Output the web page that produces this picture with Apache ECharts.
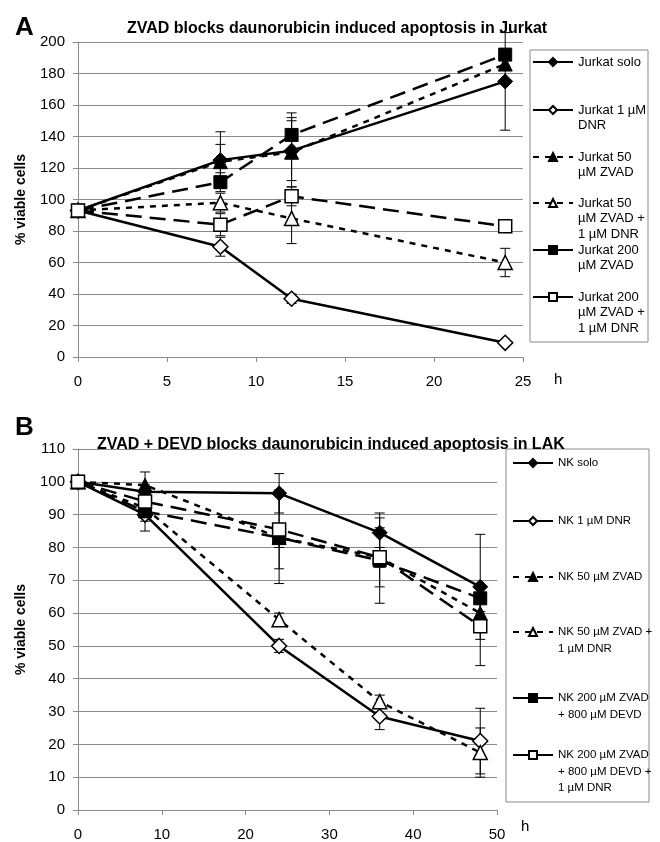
<!DOCTYPE html>
<html>
<head>
<meta charset="utf-8">
<script src="https://cdn.jsdelivr.net/npm/echarts@6/dist/echarts.min.js"></script>
<style>
  html, body { margin: 0; padding: 0; background: #fff; }
  #chart { width: 660px; height: 842px; }
</style>
</head>
<body>
<div id="chart"></div>
<script>
// panel A: Jurkat, hours
const timesA = [0, 8, 12, 24];
const jurkatSolo = [93, 125, 131, 175];
const jurkatSoloSd = [0, 18, 19, 31];
const jurkatDnr = [93, 70, 37, 9];
const jurkatDnrSd = [0, 6, 3, 1];
const jurkatZ50 = [93, 124, 130, 186];
const jurkatZ50Sd = [0, 11, 22, 3];
const jurkatZ50Dnr = [93, 98, 88, 60];
const jurkatZ50DnrSd = [0, 6, 16, 9];
const jurkatZ200 = [93, 111, 141, 192];
const jurkatZ200Sd = [0, 6, 14, 3];
const jurkatZ200Dnr = [93, 84, 102, 83];
const jurkatZ200DnrSd = [0, 7, 6, 1];

// panel B: LAK / NK, hours
const timesB = [0, 8, 24, 36, 48];
const nkSolo = [100, 97, 96.5, 84.5, 68];
const nkSoloSd = [0, 2, 6, 6, 16];
const nkDnr = [100, 90, 50, 28.5, 21];
const nkDnrSd = [0, 5, 2, 4, 10];
const nkZ50 = [100, 99, 83, 77, 60];
const nkZ50Sd = [0, 4, 3, 3, 3];
const nkZ50Dnr = [100, 92, 58, 33, 17.5];
const nkZ50DnrSd = [0, 3, 2, 2, 7.5];
const nkZD = [100, 91, 83, 76, 64.5];
const nkZDSd = [0, 3, 14, 13, 4];
const nkZDDnr = [100, 94, 85.5, 77, 56];
const nkZDDnrSd = [0, 3, 12, 9, 12];

const FONT = 'Liberation Sans, Arial, sans-serif';
const GRAY = '#8a8a8a';
const SHORT = [6, 6];
const LONG = [16, 8];

// name, values, sd, symbol, open?, dash, legend lines, first-line y
const seriesA = [
  ['Jurkat solo', jurkatSolo, jurkatSoloSd, 'diamond', false, 'solid', ['Jurkat solo'], 62],
  ['Jurkat 1 µM DNR', jurkatDnr, jurkatDnrSd, 'diamond', true, 'solid', ['Jurkat 1 µM', 'DNR'], 110],
  ['Jurkat 50 µM ZVAD', jurkatZ50, jurkatZ50Sd, 'triangle', false, SHORT, ['Jurkat 50', 'µM ZVAD'], 157],
  ['Jurkat 50 µM ZVAD + 1 µM DNR', jurkatZ50Dnr, jurkatZ50DnrSd, 'triangle', true, SHORT, ['Jurkat 50', 'µM ZVAD +', '1 µM DNR'], 203],
  ['Jurkat 200 µM ZVAD', jurkatZ200, jurkatZ200Sd, 'rect', false, LONG, ['Jurkat 200', 'µM ZVAD'], 250],
  ['Jurkat 200 µM ZVAD + 1 µM DNR', jurkatZ200Dnr, jurkatZ200DnrSd, 'rect', true, LONG, ['Jurkat 200', 'µM ZVAD +', '1 µM DNR'], 297]
];
const seriesB = [
  ['NK solo', nkSolo, nkSoloSd, 'diamond', false, 'solid', ['NK solo'], 463],
  ['NK 1 µM DNR', nkDnr, nkDnrSd, 'diamond', true, 'solid', ['NK 1 µM DNR'], 521],
  ['NK 50 µM ZVAD', nkZ50, nkZ50Sd, 'triangle', false, SHORT, ['NK 50 µM ZVAD'], 577],
  ['NK 50 µM ZVAD + 1 µM DNR', nkZ50Dnr, nkZ50DnrSd, 'triangle', true, SHORT, ['NK 50 µM ZVAD +', '1 µM DNR'], 632],
  ['NK 200 µM ZVAD + 800 µM DEVD', nkZD, nkZDSd, 'rect', false, LONG, ['NK 200 µM ZVAD', '+ 800 µM DEVD'], 698],
  ['NK 200 µM ZVAD + 800 µM DEVD + 1 µM DNR', nkZDDnr, nkZDDnrSd, 'rect', true, LONG, ['NK 200 µM ZVAD', '+ 800 µM DEVD +', '1 µM DNR'], 755]
];

function errRender(params, api) {
  const x = api.value(0), v = api.value(1), e = api.value(2);
  if (!e) return null;
  const hi = api.coord([x, v + e]);
  const lo = api.coord([x, v - e]);
  const w = 5;
  const st = { stroke: '#000', lineWidth: 1 };
  return {
    type: 'group',
    children: [
      { type: 'line', shape: { x1: hi[0], y1: hi[1], x2: lo[0], y2: lo[1] }, style: st },
      { type: 'line', shape: { x1: hi[0] - w, y1: hi[1], x2: hi[0] + w, y2: hi[1] }, style: st },
      { type: 'line', shape: { x1: lo[0] - w, y1: lo[1], x2: lo[0] + w, y2: lo[1] }, style: st }
    ]
  };
}

const series = [];
const legends = [];
const legendText = {};

function addPanel(list, times, idx, legendLeft, lh, fontSize) {
  list.forEach(function (s) {
    const name = s[0], vals = s[1], sd = s[2];
    const sym = s[3], open = s[4], dash = s[5], lines = s[6], y0 = s[7];
    const size = sym === 'rect' ? 13 : (sym === 'diamond' ? 15 : 14);
    series.push({
      name: name,
      type: 'line',
      xAxisIndex: idx,
      yAxisIndex: idx,
      data: times.map(function (t, i) { return [t, vals[i]]; }),
      symbol: sym,
      symbolSize: size,
      showSymbol: true,
      color: '#000',
      lineStyle: { color: '#000', width: 2.5, type: dash },
      itemStyle: open ? { color: '#fff', borderColor: '#000', borderWidth: 1.5 }
                      : { color: '#000', borderColor: '#000', borderWidth: 1 },
      z: 3
    });
    series.push({
      name: name + ' sd',
      type: 'custom',
      xAxisIndex: idx,
      yAxisIndex: idx,
      renderItem: errRender,
      encode: { x: 0, y: 1 },
      data: times.map(function (t, i) { return [t, vals[i], sd[i]]; }),
      z: 2
    });
    // pad with blank lines so the symbol sits on the first text line
    const n = lines.length;
    const pad = new Array(n).join('\n');
    legendText[name] = pad + lines.join('\n');
    legends.push({
      data: [name],
      left: legendLeft,
      top: y0 - (2 * n - 1) * lh / 2,
      orient: 'vertical',
      padding: 0,
      itemWidth: 40,
      itemHeight: 10,
      formatter: function (nm) { return legendText[nm]; },
      textStyle: { fontFamily: FONT, fontSize: fontSize, lineHeight: lh, color: '#000' },
      selectedMode: false
    });
  });
}

addPanel(seriesA, timesA, 0, 532, 15.5, 13);
addPanel(seriesB, timesB, 1, 512, 16.5, 11.5);

function xAxis(idx, max) {
  return {
    type: 'value', gridIndex: idx, min: 0, max: max, interval: max === 25 ? 5 : 10,
    splitLine: { show: false },
    axisLine: { lineStyle: { color: GRAY, width: 1 } },
    axisTick: { show: true, length: 5, lineStyle: { color: GRAY } },
    axisLabel: { color: '#000', fontSize: 15, fontFamily: FONT, margin: 17 }
  };
}
function yAxis(idx, max, step) {
  return {
    type: 'value', gridIndex: idx, min: 0, max: max, interval: step,
    name: '% viable cells', nameLocation: 'middle', nameGap: 50, nameRotate: 90,
    nameTextStyle: { color: '#000', fontSize: 14, fontWeight: 'bold', fontFamily: FONT },
    axisLine: { show: true, lineStyle: { color: GRAY, width: 1 } },
    axisTick: { show: true, length: 5, lineStyle: { color: GRAY } },
    splitLine: { show: true, lineStyle: { color: GRAY, width: 1 } },
    axisLabel: { color: '#000', fontSize: 15, fontFamily: FONT, margin: 13 }
  };
}

const chart = echarts.init(document.getElementById('chart'), null, { renderer: 'canvas' });
chart.setOption({
  animation: false,
  backgroundColor: '#fff',
  textStyle: { fontFamily: FONT },
  title: [
    { text: 'A', left: 10, top: 10, textStyle: { fontSize: 26, fontWeight: 'bold', fontFamily: FONT, color: '#000' } },
    { text: 'ZVAD blocks daunorubicin induced apoptosis in Jurkat', left: 122, top: 16,
      textStyle: { fontSize: 16, fontWeight: 'bold', fontFamily: FONT, color: '#000' } },
    { text: 'B', left: 10, top: 410, textStyle: { fontSize: 26, fontWeight: 'bold', fontFamily: FONT, color: '#000' } },
    { text: 'ZVAD + DEVD blocks daunorubicin induced apoptosis in LAK', left: 92, top: 432,
      textStyle: { fontSize: 16, fontWeight: 'bold', fontFamily: FONT, color: '#000' } }
  ],
  grid: [
    { left: 78, top: 42, width: 445, height: 315 },
    { left: 78, top: 449, width: 419, height: 362 }
  ],
  xAxis: [xAxis(0, 25), xAxis(1, 50)],
  yAxis: [yAxis(0, 200, 20), yAxis(1, 110, 10)],
  legend: legends,
  graphic: [
    { type: 'rect', shape: { x: 530, y: 50, width: 118, height: 292 },
      style: { fill: 'none', stroke: GRAY, lineWidth: 1 }, z: 0 },
    { type: 'rect', shape: { x: 506, y: 449, width: 143, height: 353 },
      style: { fill: 'none', stroke: GRAY, lineWidth: 1 }, z: 0 },
    { type: 'text', left: 554, top: 372, style: { text: 'h', fontSize: 15, fontFamily: FONT, fill: '#000' } },
    { type: 'text', left: 521, top: 819, style: { text: 'h', fontSize: 15, fontFamily: FONT, fill: '#000' } }
  ],
  series: series
});
</script>
</body>
</html>
